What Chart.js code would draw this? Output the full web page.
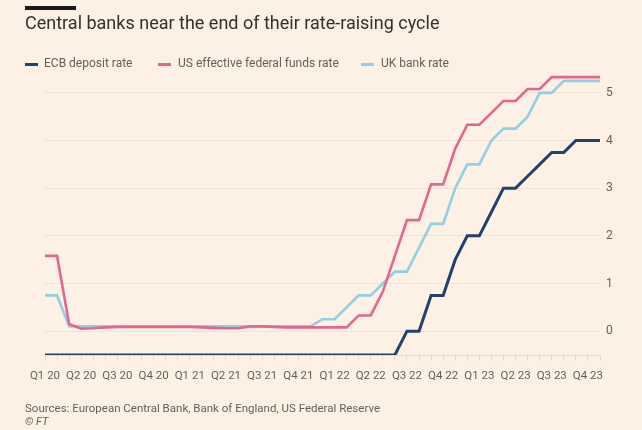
<!DOCTYPE html>
<html>
<head>
<meta charset="utf-8">
<script src="https://cdn.jsdelivr.net/npm/chart.js@4"></script>
<style>
  html, body { margin:0; padding:0; background:#fdf0e5; }
  body { width:642px; height:430px; position:relative; overflow:hidden; font-family: Roboto, "Open Sans", sans-serif; }
  #bar { position:absolute; left:25px; top:6px; width:51px; height:4px; background:#1a1817; }
  #title { position:absolute; left:25px; top:12px; font-size:18px; color:#33302e; white-space:nowrap; }
  .leg { position:absolute; top:56px; font-size:12px; color:#66605c; white-space:nowrap; }
  .sw { position:absolute; height:3px; width:13px; top:63px; }
  #src { position:absolute; left:25px; top:401px; font-size:11.5px; color:#66605c; white-space:nowrap; }
  #ft { position:absolute; left:25px; top:415px; font-size:11px; color:#66605c; font-style:italic; }
  #c { position:absolute; left:0; top:0; }
</style>
</head>
<body>
<canvas id="c" width="642" height="430"></canvas>
<div id="bar"></div>
<div id="title">Central banks near the end of their rate-raising cycle</div>
<div class="sw" style="left:25px;background:#22416b"></div>
<div class="leg" style="left:44px">ECB deposit rate</div>
<div class="sw" style="left:158px;background:#e2678f"></div>
<div class="leg" style="left:178px">US effective federal funds rate</div>
<div class="sw" style="left:361px;background:#92cfe0"></div>
<div class="leg" style="left:381px">UK bank rate</div>
<div id="src">Sources: European Central Bank, Bank of England, US Federal Reserve</div>
<div id="ft">© FT</div>
<script>
// Monthly observations, Jan 2020 .. Nov 2023
const months = [
  "2020-01","2020-02","2020-03","2020-04","2020-05","2020-06","2020-07","2020-08","2020-09","2020-10","2020-11","2020-12",
  "2021-01","2021-02","2021-03","2021-04","2021-05","2021-06","2021-07","2021-08","2021-09","2021-10","2021-11","2021-12",
  "2022-01","2022-02","2022-03","2022-04","2022-05","2022-06","2022-07","2022-08","2022-09","2022-10","2022-11","2022-12",
  "2023-01","2023-02","2023-03","2023-04","2023-05","2023-06","2023-07","2023-08","2023-09","2023-10","2023-11"
];
const quarterLabels = ["Q1 20","Q2 20","Q3 20","Q4 20","Q1 21","Q2 21","Q3 21","Q4 21","Q1 22","Q2 22","Q3 22","Q4 22","Q1 23","Q2 23","Q3 23","Q4 23"];
const ecbRate = [
  -0.5,-0.5,-0.5,-0.5,-0.5,-0.5,-0.5,-0.5,-0.5,-0.5,-0.5,-0.5,
  -0.5,-0.5,-0.5,-0.5,-0.5,-0.5,-0.5,-0.5,-0.5,-0.5,-0.5,-0.5,
  -0.5,-0.5,-0.5,-0.5,-0.5,-0.5,0,0,0.75,0.75,1.5,2,
  2,2.5,3,3,3.25,3.5,3.75,3.75,4,4,4
];
const usRate = [
  1.58,1.58,0.15,0.05,0.06,0.08,0.09,0.09,0.09,0.09,0.09,0.09,
  0.09,0.08,0.07,0.06,0.06,0.1,0.1,0.09,0.08,0.08,0.08,0.08,
  0.08,0.08,0.33,0.33,0.83,1.58,2.33,2.33,3.08,3.08,3.83,4.33,
  4.33,4.58,4.83,4.83,5.08,5.08,5.33,5.33,5.33,5.33,5.33
];
const ukRate = [
  0.75,0.75,0.1,0.1,0.1,0.1,0.1,0.1,0.1,0.1,0.1,0.1,
  0.1,0.1,0.1,0.1,0.1,0.1,0.1,0.1,0.1,0.1,0.1,0.25,
  0.25,0.5,0.75,0.75,1.0,1.25,1.25,1.75,2.25,2.25,3.0,3.5,
  3.5,4.0,4.25,4.25,4.5,5.0,5.0,5.25,5.25,5.25,5.25
];
const yTicks = [0,1,2,3,4,5];

const grey = '#66605c';
new Chart(document.getElementById('c'), {
  type: 'line',
  data: {
    labels: months,
    datasets: [
      { label:'ECB deposit rate', data: ecbRate, borderColor:'#22416b', borderWidth:3 },
      { label:'US effective federal funds rate', data: usRate, borderColor:'#e2678f', borderWidth:2.6 },
      { label:'UK bank rate', data: ukRate, borderColor:'#92cfe0', borderWidth:2.6 }
    ]
  },
  options: {
    responsive:false, animation:false,
    layout: { padding: { left:45, top:69, bottom:45, right:0 } },
    elements: { point: { radius:0 }, line: { tension:0, borderCapStyle:'butt' } },
    plugins: { legend:{display:false}, tooltip:{enabled:false} },
    scales: {
      x: {
        offset:false,
        grid: { drawOnChartArea:false, tickLength:6, color:'#e6d8cc' },
        border: { display:true, color:'#e6d8cc' },
        ticks: {
          autoSkip:false, maxRotation:0, padding:8, color:grey,
          font:{ family:'Roboto', size:11.5 },
          callback: (v, i) => i % 3 === 0 ? quarterLabels[i/3] : ''
        },
        afterFit: s => { s.height = 30; }
      },
      y: {
        position:'right', min:-0.5, max:5.5,
        afterBuildTicks: s => { s.ticks = yTicks.map(v => ({ value:v })); },
        grid: { drawTicks:false, color:'#efe1d6' },
        border: { display:false },
        ticks: { padding:6, color:grey, font:{ family:'Roboto', size:12 } },
        afterFit: s => { s.width = 42; }
      }
    }
  }
});
</script>
</body>
</html>
